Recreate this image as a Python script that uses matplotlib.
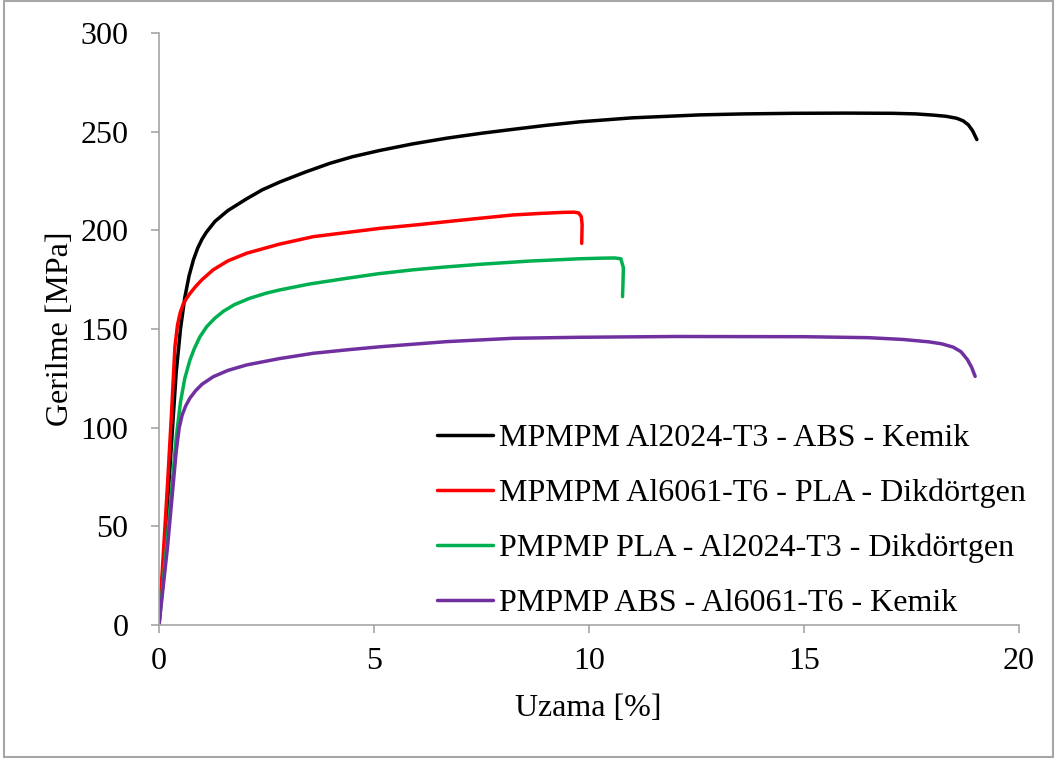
import matplotlib
matplotlib.use("Agg")
import matplotlib.pyplot as plt
from matplotlib.patches import Rectangle

plt.rcParams['font.family'] = ['Liberation Serif', 'DejaVu Serif']

labels = [
    "MPMPM Al2024-T3 - ABS - Kemik",
    "MPMPM Al6061-T6 - PLA - Dikdörtgen",
    "PMPMP PLA - Al2024-T3 - Dikdörtgen",
    "PMPMP ABS - Al6061-T6 - Kemik",
]
colors = ["#000000", "#ff0000", "#00b050", "#7030a0"]

black_x = [0, 0.1, 0.2, 0.3, 0.4, 0.5, 0.6, 0.7, 0.8, 0.9, 1.0, 1.1, 1.3, 1.6, 2.04, 2.4,
           2.81, 3.4, 3.98, 4.5, 5.14, 5.9, 6.69, 7.5, 8.24, 9.0, 9.79, 11.0, 12.58, 13.6,
           14.74, 16.0, 17.07, 17.6, 18.0, 18.3, 18.55, 18.7, 18.82, 18.92, 19.02]
black_y = [0, 30, 62, 95, 128, 150, 166, 177, 185, 191, 195.5, 199, 204.5, 210, 216, 220.5,
           224.5, 229.5, 234, 237.3, 240.5, 243.8, 246.7, 249.2, 251.2, 253.2, 255, 257, 258.5, 259,
           259.3, 259.4, 259.3, 259, 258.4, 257.8, 256.8, 255.5, 253.5, 250.5, 246]

red_x = [0, 0.1, 0.2, 0.29, 0.37, 0.43, 0.49, 0.56, 0.64, 0.72, 0.85, 1.0, 1.26, 1.6, 2.04,
         2.8, 3.59, 4.4, 5.14, 6.0, 6.69, 7.5, 8.24, 8.9, 9.4, 9.65, 9.76, 9.82, 9.84, 9.83]
red_y = [0, 36, 72, 107, 141, 152, 158, 162.5, 165.5, 168, 171.5, 175, 180, 184.5, 188.4,
         193, 196.8, 199, 201, 202.8, 204.4, 206.2, 207.8, 208.6, 209.1, 209.2, 208.8, 207, 203, 193.4]

green_x = [0, 0.2, 0.4, 0.5, 0.6, 0.72, 0.82, 0.95, 1.11, 1.3, 1.5, 1.75, 2.1, 2.5, 2.81,
           3.5, 4.37, 5.1, 5.91, 6.7, 7.47, 8.6, 9.79, 10.3, 10.6, 10.74, 10.8, 10.79, 10.78]
green_y = [0, 45, 95, 113, 125, 134.3, 140, 146, 151.2, 155.5, 159, 162.3, 165.5, 168.2, 169.8,
           172.8, 175.7, 178, 180, 181.5, 182.8, 184.4, 185.6, 185.9, 186, 185.6, 181, 173, 166.4]

purple_x = [0, 0.2, 0.4, 0.47, 0.54, 0.62, 0.72, 0.85, 1.0, 1.26, 1.6, 2.04, 2.8, 3.59,
            4.4, 5.14, 6.69, 8.24, 9.79, 12.0, 15.0, 16.5, 17.3, 17.9, 18.2, 18.47, 18.65,
            18.8, 18.9, 18.98]
purple_y = [0, 40, 88, 100, 106.5, 111, 115, 118.7, 122, 125.8, 129, 131.8, 135, 137.7,
            139.5, 141, 143.6, 145.3, 145.8, 146.2, 146.1, 145.6, 144.7, 143.5, 142.5, 140.8, 138.5,
            134.5, 130.5, 126]

series_x = [black_x, red_x, green_x, purple_x]
series_y = [black_y, red_y, green_y, purple_y]

x_ticks = [0, 5, 10, 15, 20]
y_ticks = [0, 50, 100, 150, 200, 250, 300]

W, H = 1058, 760
fig = plt.figure(figsize=(W / 100, H / 100), dpi=100)
ax = fig.add_axes([159 / W, 1 - 625 / H, (1019 - 159) / W, (625 - 33) / H])

for xs, ys, c, lab in zip(series_x, series_y, colors, labels):
    ax.plot(xs, ys, color=c, lw=2.5, label=lab, solid_joinstyle='round', solid_capstyle='round')

ax.set_xlim(0, 20)
ax.set_ylim(0, 300)
ax.set_xticks(x_ticks)
ax.set_yticks(y_ticks)
axis_gray = "#a6a6a6"
for s in ["top", "right"]:
    ax.spines[s].set_visible(False)
for s in ["left", "bottom"]:
    ax.spines[s].set_color(axis_gray)
    ax.spines[s].set_linewidth(1.2)
ax.tick_params(axis='both', direction='out', length=6, width=1.2, color=axis_gray,
               labelsize=23, labelcolor='black')
ax.tick_params(axis='y', pad=16)
ax.tick_params(axis='x', pad=10)

ax.set_xlabel("Uzama [%]", fontsize=23, va='center')
ax.xaxis.set_label_coords(588 / W, 1 - 709 / H, transform=fig.transFigure)
ax.set_ylabel("Gerilme [MPa]", fontsize=23, va='center')
ax.yaxis.set_label_coords(61 / W, 1 - 329 / H, transform=fig.transFigure)

leg = ax.legend(loc='upper left', bbox_to_anchor=(437 / W, 1 - 424 / H),
                bbox_transform=fig.transFigure, frameon=False, fontsize=23,
                borderpad=0, handlelength=1.75, handletextpad=0.18, labelspacing=0.8,
                borderaxespad=0)

fig.patches.append(Rectangle((4 / W, 1 - 757 / H), (1053 - 4) / W, (757 - 1) / H,
                             transform=fig.transFigure, fill=False,
                             edgecolor="#a6a6a6", lw=1.5))

fig.savefig("out.png", dpi=100)
